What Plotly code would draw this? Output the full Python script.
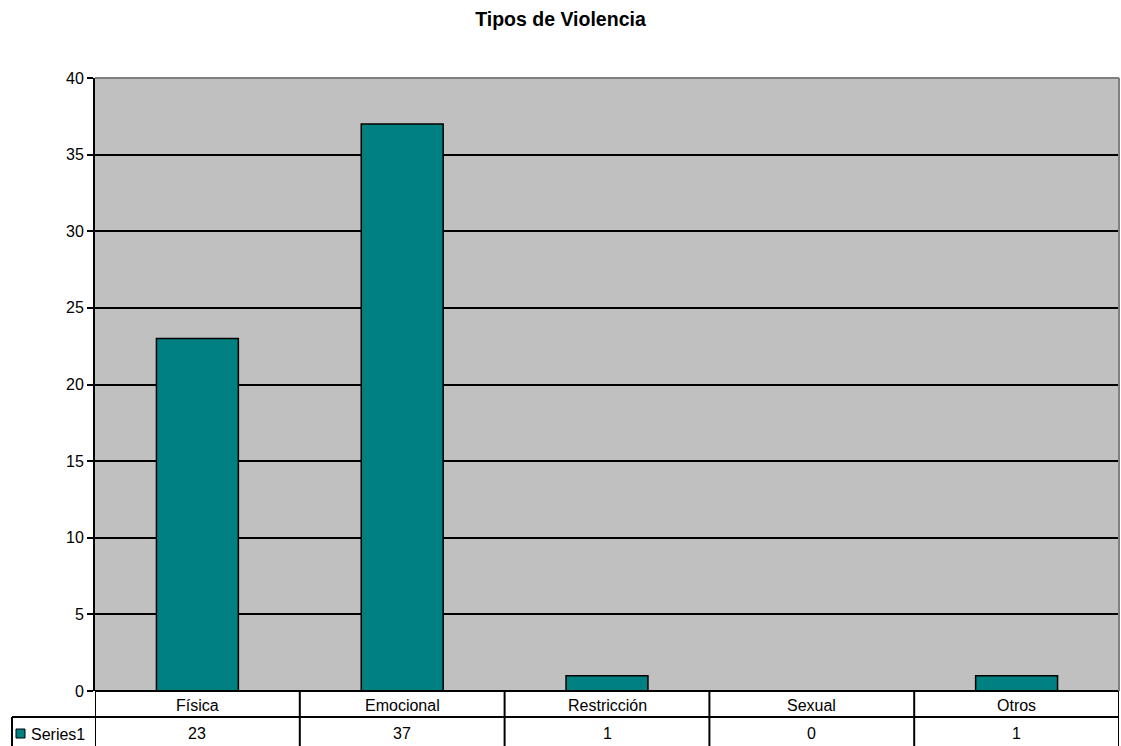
import plotly.graph_objects as go

categories = ["Física", "Emocional", "Restricción", "Sexual", "Otros"]
values = [23, 37, 1, 0, 1]
series_name = "Series1"
title_text = "Tipos de Violencia"
y_ticks = [0, 5, 10, 15, 20, 25, 30, 35, 40]

W, H = 1121, 746
L, R, T, B = 95, 2, 78, 55
plot_h = H - T - B
plot_w = W - L - R

def py(pix):
    # pixel row -> paper y
    return (H - B - pix) / plot_h

def px(pix):
    return (pix - L) / plot_w

FONT = "Liberation Sans, Arial, sans-serif"
TEAL = "#008080"
FS = 16

fig = go.Figure()
fig.add_trace(go.Bar(
    x=list(range(len(categories))), y=values, name=series_name,
    marker=dict(color=TEAL, line=dict(color="black", width=1.5)),
    width=0.4, showlegend=False,
))

shapes = []
annotations = []
n = len(categories)
row1_bot = py(717)
row2_bot = py(746)
# horizontal table lines
shapes.append(dict(type="line", xref="x", yref="paper", x0=-0.5, x1=n - 0.5, y0=0, y1=0,
                   line=dict(color="black", width=2)))
shapes.append(dict(type="line", xref="paper", yref="paper", x0=px(12), x1=1, y0=row1_bot, y1=row1_bot,
                   line=dict(color="black", width=2)))
# vertical table lines
for i in range(n + 1):
    shapes.append(dict(type="line", xref="x", yref="paper", x0=i - 0.5, x1=i - 0.5,
                       y0=0, y1=row2_bot, line=dict(color="black", width=2)))
shapes.append(dict(type="line", xref="paper", yref="paper", x0=px(12), x1=px(12),
                   y0=row1_bot, y1=row2_bot, line=dict(color="black", width=2)))
# plot border top/right (gray)
shapes.append(dict(type="line", xref="paper", yref="paper", x0=0, x1=1, y0=1, y1=1,
                   line=dict(color="#808080", width=2)))
shapes.append(dict(type="line", xref="paper", yref="paper", x0=1, x1=1, y0=0, y1=1,
                   line=dict(color="#808080", width=2)))
# legend key
shapes.append(dict(type="rect", xref="paper", yref="paper", x0=px(16), x1=px(25),
                   y0=py(738), y1=py(729), fillcolor=TEAL, line=dict(color="black", width=1)))

for i, (c, v) in enumerate(zip(categories, values)):
    annotations.append(dict(x=i, y=py(705), xref="x", yref="paper", text=c, showarrow=False,
                            font=dict(family=FONT, size=FS, color="black"),
                            xanchor="center", yanchor="middle"))
    annotations.append(dict(x=i, y=py(733), xref="x", yref="paper", text=str(v), showarrow=False,
                            font=dict(family=FONT, size=FS, color="black"),
                            xanchor="center", yanchor="middle"))
annotations.append(dict(x=px(29), y=py(734), xref="paper", yref="paper", text=series_name,
                        showarrow=False, font=dict(family=FONT, size=FS, color="black"),
                        xanchor="left", yanchor="middle"))

fig.update_layout(
    width=W, height=H,
    margin=dict(l=L, r=R, t=T, b=B, pad=0),
    paper_bgcolor="white", plot_bgcolor="#C0C0C0",
    title=dict(text="<b>" + title_text + "</b>", x=0.5, xanchor="center", y=1 - 19 / H,
               yanchor="middle", font=dict(family=FONT, size=19.5, color="black")),
    xaxis=dict(range=[-0.5, n - 0.5], showticklabels=False, showgrid=False, zeroline=False,
               ticks="", showline=False, fixedrange=True),
    yaxis=dict(range=[0, 40], tickvals=y_ticks, showgrid=True, gridcolor="black", gridwidth=1.6,
               zeroline=False, showline=True, linecolor="black", linewidth=2,
               ticks="outside", ticklen=6, tickcolor="black", tickwidth=1.5,
               tickfont=dict(family=FONT, size=FS, color="black"), fixedrange=True),
    shapes=shapes, annotations=annotations, bargap=0.6,
)

fig.write_html("out.html")
